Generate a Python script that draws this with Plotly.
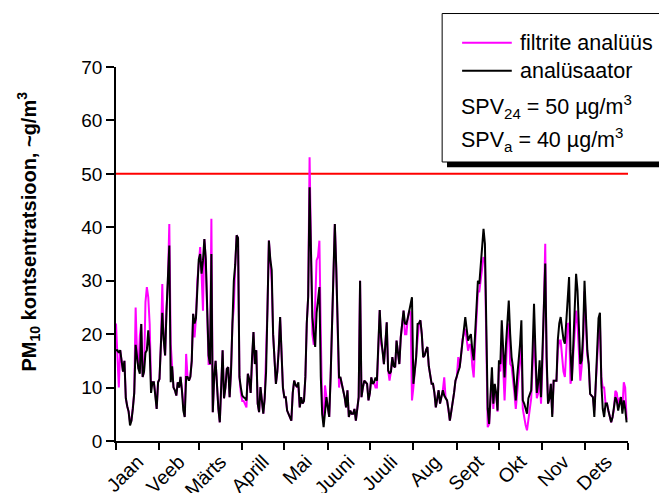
import pandas as pd
import plotly.graph_objects as go

# Daily PM10 concentrations (µg/m³), one value per day of the year
analusaator = [
    # Jaan
    17, 17, 16.5, 17, 15, 13, 15, 8, 6.5, 5.5, 2.9, 3.8, 6, 9, 18, 15, 13.5, 12.6, 21.9, 12,
    13, 16.5, 17, 20.7, 17, 9, 11, 11, 9, 6, 11,
    # Veeb
    11.6, 18, 24, 19, 16, 24.4, 30, 36.6, 11, 14, 10, 9.5, 8.5, 11, 10, 12, 9.5, 5.7, 4.5, 12,
    12, 11.3, 12, 15, 23.8, 22, 23, 30,
    # Märts
    34, 35, 31.3, 33.8, 37.8, 34, 24, 16, 14.4, 35, 5.4, 12, 15, 10, 6, 3.5, 10, 17, 8, 10,
    13.5, 13.8, 8.2, 13, 22, 30, 33, 38.5, 38, 12, 10,
    # Aprill
    8.5, 8.2, 8, 7.6, 12.6, 11.5, 9, 15.7, 20.4, 14.4, 17, 7, 5.4, 10.1, 8, 5.1, 8, 13, 25, 37.5,
    34, 32, 20, 13.8, 10.7, 13, 17, 23.2, 14.5, 10,
    # Mai
    8.2, 8.2, 5.7, 5, 4.5, 3.8, 9, 11.3, 10.5, 10.1, 11, 6.3, 8.2, 7, 7.5, 12, 22, 27, 47.5, 33,
    23.2, 20, 17.6, 24, 27, 28.8, 12, 5, 2.6, 6, 8.2,
    # Juuni
    6.3, 4.5, 12, 22, 33, 40.6, 32.5, 20, 11.9, 11.9, 10.7, 10, 8.2, 6.3, 9.5, 4.5, 5.7, 5.1, 5.1, 6,
    3.8, 6, 8.2, 30, 8.2, 10, 11.3, 11, 10.7, 7.6,
    # Juuli
    9, 11.9, 10.7, 11, 11.9, 11.3, 19, 24.5, 19.4, 17, 14.4, 18, 22.2, 13.2, 12.6, 13, 15.7, 14, 13.8, 18.8,
    17, 14.4, 19.4, 22, 24.4, 22, 21.9, 23, 24.4, 26, 26.9,
    # Aug
    10.7, 13, 15.7, 21.9, 22, 22.6, 20, 15.7, 16, 17, 17.6, 14, 11.9, 10.7, 10.7, 9, 6.3, 8, 9.5, 7,
    8, 9.5, 8.5, 8, 7.6, 6, 3.8, 5.5, 7, 9, 11.3,
    # Sept
    12, 13, 13.8, 16, 19, 21, 23.2, 21, 18.8, 19.5, 20, 17, 15.1, 20, 25, 30, 29.4, 33, 36.9, 39.7,
    36.9, 18.2, 6, 3.2, 10, 13.8, 7, 10.7, 9, 5.7,
    # Okt
    15.1, 14.4, 22.6, 16.9, 11.9, 18, 22, 26.3, 20, 15.7, 13.8, 11, 7.6, 12, 15, 18, 22.6, 7.6, 7, 6,
    5.1, 8, 9, 9.5, 17, 25.7, 17, 9, 11, 15.1, 8.2,
    # Nov
    16, 25, 33.2, 15.7, 7, 8, 10.7, 4.5, 11.3, 11.3, 11.3, 19, 22, 23.2, 21.3, 19, 18.2, 22, 27, 30.7,
    17, 11.3, 18, 25, 31.3, 28.2, 20, 14.4, 15.1, 20,
    # Dets
    30, 22, 17, 14.4, 8.8, 8.5, 8.2, 4.5, 10.7, 16, 23, 24, 10.7, 6, 4.5, 7, 7, 5.7, 4.5, 3.5,
    4.5, 6, 8.2, 7.5, 5.7, 7, 8.2, 5.1, 7.6, 6, 3.5,
]

filtrite_analuus = [
    # Jaan
    22, 16, 10, 17, 15, 13, 15, 8, 6.5, 5.5, 3.5, 3.8, 6.3, 9, 25, 16, 13.5, 19.7, 21.9, 12,
    13, 26, 28.8, 26.9, 21.9, 10.7, 11, 11, 9, 6, 11,
    # Veeb
    11.6, 18, 29.4, 19, 16, 24.4, 30, 40.6, 18.2, 14, 10, 9.5, 8.5, 11, 10, 12, 9.5, 5.7, 4.5, 16.3,
    12, 11.3, 12, 15, 23.8, 19.4, 23, 30,
    # Märts
    34, 36.3, 31.3, 24.4, 37.8, 34, 24, 14.4, 14.4, 41.6, 5.4, 12, 15, 10, 6, 3.5, 10, 17, 8, 10,
    13.5, 13.8, 8.2, 13, 22, 25, 33, 38.5, 38, 12, 9,
    # Aprill
    7.5, 7.5, 7, 6.3, 12.6, 11.5, 9, 15.7, 20.4, 14.4, 17, 7, 5.4, 10.1, 8, 5.1, 8, 16, 25, 37.5,
    34, 30, 20, 13.8, 10.7, 13, 17, 23.2, 14.5, 10,
    # Mai
    8.2, 8.2, 5.7, 5, 4.5, 3.8, 9, 11.3, 10.5, 10.1, 10, 6.3, 8.2, 7, 7.5, 12, 22, 27, 53.1, 33,
    20, 18, 25, 33.8, 34.5, 37.5, 20, 6, 3.5, 10.4, 8.2,
    # Juuni
    6.3, 4.5, 12, 22, 33, 40.6, 32.5, 18, 10, 11.9, 10.7, 10, 8.2, 6.3, 9.5, 4.5, 5.7, 5.1, 5.1, 6,
    3.8, 6, 8.2, 30, 8.2, 10, 11.3, 11, 10.7, 7.6,
    # Juuli
    9, 11.9, 10.7, 11, 10, 10, 19, 24.5, 18.2, 17, 14.4, 18, 22.2, 13.2, 11.3, 13, 15.7, 14, 13.8, 18.8,
    17, 14.4, 19.4, 22, 24.4, 20, 20, 23, 24.4, 24, 7.6,
    # Aug
    10, 13, 15.7, 20, 22, 22.6, 20, 15.7, 16, 17, 17.6, 14, 11.9, 10.7, 10.7, 9, 6.3, 8, 9.5, 7,
    8, 9.5, 11.9, 8, 7.6, 6, 3.8, 5.5, 7, 9, 11.3,
    # Sept
    12, 15.7, 13.8, 16, 19, 20, 21, 19, 16.9, 18, 18, 14, 11.9, 18, 23, 28, 28, 30, 33, 34.4,
    34, 16, 2.6, 3.2, 9, 12, 6, 10, 8.5, 5.5,
    # Okt
    14, 13, 18, 14, 7.6, 16, 20, 22, 14.4, 14, 12, 9, 6, 10, 12, 15, 18, 6, 4, 3,
    2, 3.8, 6, 8, 14, 20, 14, 8, 9, 12, 7,
    # Nov
    14, 25, 36.9, 14, 7, 8, 10.7, 5, 11.3, 11.3, 11.3, 17, 18.8, 18.8, 15, 13, 12, 18, 21.9, 22,
    10.7, 12, 16, 20, 24.4, 22, 15, 11.3, 14, 18,
    # Dets
    28, 20, 16, 14.4, 8.8, 8.5, 8.2, 5.7, 10.7, 14, 20, 22, 12, 10, 10, 7, 7, 5.7, 4.5, 3.5,
    4.5, 6, 9.4, 9, 6.8, 8, 8.2, 6, 11, 10, 4,
]

kuud = ["Jaan", "Veeb", "Märts", "Aprill", "Mai", "Juuni",
        "Juuli", "Aug", "Sept", "Okt", "Nov", "Dets"]

spv24 = 50  # daily limit value, µg/m³
y_ticks = [0, 10, 20, 30, 40, 50, 60, 70]

paevad = pd.date_range("2009-01-01", periods=len(analusaator), freq="D")
kuu_algus = pd.date_range("2009-01-01", "2010-01-01", freq="MS")
kuu_kesk = [a + (b - a) / 2 for a, b in zip(kuu_algus[:-1], kuu_algus[1:])]

FONT = "Arial, 'Liberation Sans', sans-serif"
MAGENTA = "#FF00FF"

fig = go.Figure()

fig.add_trace(go.Scatter(
    x=[kuu_algus[0], kuu_algus[-1]], y=[spv24, spv24], mode="lines",
    line=dict(color="#FF0000", width=2), hoverinfo="skip", showlegend=False,
))
fig.add_trace(go.Scatter(
    x=paevad, y=filtrite_analuus, mode="lines", name="filtrite analüüs",
    line=dict(color=MAGENTA, width=2), showlegend=False,
))
fig.add_trace(go.Scatter(
    x=paevad, y=analusaator, mode="lines", name="analüsaator",
    line=dict(color="black", width=2), showlegend=False,
))

# legend box with drop shadow, drawn in paper coordinates
shapes = [
    dict(type="rect", xref="paper", yref="paper", x0=0.6465, x1=1.1, y0=0.732, y1=0.748,
         fillcolor="black", line=dict(width=0), layer="above"),
    dict(type="rect", xref="paper", yref="paper", x0=0.637, x1=1.1, y0=0.746, y1=1.143,
         fillcolor="white", line=dict(color="black", width=1), layer="above"),
    dict(type="line", xref="paper", yref="paper", x0=0.676, x1=0.773, y0=1.065, y1=1.065,
         line=dict(color=MAGENTA, width=2), layer="above"),
    dict(type="line", xref="paper", yref="paper", x0=0.676, x1=0.773, y0=0.990, y1=0.990,
         line=dict(color="black", width=2), layer="above"),
]

tf = dict(family=FONT, size=21.5, color="black")
annotations = [
    dict(xref="paper", yref="paper", x=0.785, y=1.065, xanchor="left", yanchor="middle",
         text="filtrite analüüs", showarrow=False, font=tf),
    dict(xref="paper", yref="paper", x=0.785, y=0.990, xanchor="left", yanchor="middle",
         text="analüsaator", showarrow=False, font=tf),
    dict(xref="paper", yref="paper", x=0.670, y=0.895, xanchor="left", yanchor="middle",
         text="SPV<sub>24</sub> = 50 µg/m<sup>3</sup>", showarrow=False, font=tf),
    dict(xref="paper", yref="paper", x=0.670, y=0.805, xanchor="left", yanchor="middle",
         text="SPV<sub>a</sub> = 40 µg/m<sup>3</sup>", showarrow=False, font=tf),
    dict(xref="paper", yref="paper", x=-0.170, y=0.56, xanchor="center", yanchor="middle",
         textangle=-90, showarrow=False,
         text="<b>PM<sub>10</sub> kontsentratsioon, ~g/m<sup>3</sup></b>",
         font=dict(family=FONT, size=20, color="black")),
]

fig.update_layout(
    width=659, height=493,
    margin=dict(l=116, r=31, t=67, b=52),
    paper_bgcolor="white", plot_bgcolor="white",
    font=dict(family=FONT, size=18, color="black"),
    shapes=shapes, annotations=annotations,
    showlegend=False,
)

fig.update_xaxes(
    range=[kuu_algus[0], kuu_algus[-1]],
    tickmode="array", tickvals=kuu_kesk, ticktext=kuud, tickangle=-45,
    ticks="", showgrid=False, zeroline=False,
    showline=True, linecolor="black", linewidth=1.5,
    tickfont=dict(family=FONT, size=19.5, color="black"),
    minor=dict(tickmode="array", tickvals=list(kuu_algus), ticks="outside",
               ticklen=7, tickwidth=1.5, tickcolor="black", showgrid=False),
    automargin=False,
)
fig.update_yaxes(
    range=[0, 70], tickmode="array", tickvals=y_ticks,
    ticks="outside", ticklen=8, tickwidth=1.5, tickcolor="black",
    showgrid=False, zeroline=False,
    showline=True, linecolor="black", linewidth=1.5,
    tickfont=dict(family=FONT, size=19, color="black"),
    automargin=False,
)

fig.write_html("out.html")
